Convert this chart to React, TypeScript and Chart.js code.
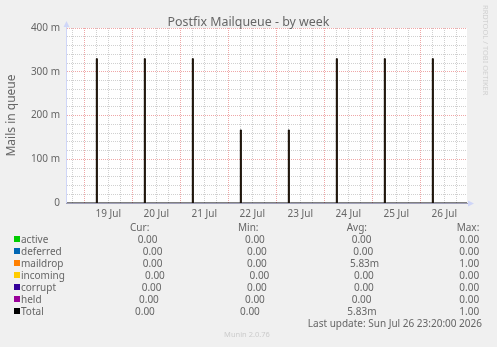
import React, { useEffect, useRef } from 'react';
import { Chart, registerables } from 'chart.js';

Chart.register(...registerables);

// ---------- data ----------
const dayLabels = ['19 Jul', '20 Jul', '21 Jul', '22 Jul', '23 Jul', '24 Jul', '25 Jul', '26 Jul'];
// hours since 18 Jul 00:00 (end of each 30-min sample that holds a mail)
const spikeHours = [30.5, 54.5, 78.5, 102.5, 126.5, 150.5, 174.5, 198.5];
const maildropValues = [0.33, 0.33, 0.33, 0.167, 0.167, 0.33, 0.33, 0.33];
const totalValues = [0.33, 0.33, 0.33, 0.167, 0.167, 0.33, 0.33, 0.33];
const yTickLabels = ['0', '100 m', '200 m', '300 m', '400 m'];

const seriesNames = ['active', 'deferred', 'maildrop', 'incoming', 'corrupt', 'held', 'Total'];
const seriesColors = ['#00CC00', '#0066B3', '#FF8000', '#FFCC00', '#330099', '#990099', '#000000'];
const curValues = ['0.00', '0.00', '0.00', '0.00', '0.00', '0.00', '0.00'];
const minValues = ['0.00', '0.00', '0.00', '0.00', '0.00', '0.00', '0.00'];
const avgValues = ['0.00', '0.00', '5.83m', '0.00', '0.00', '0.00', '5.83m'];
const maxValues = ['0.00', '0.00', '1.00', '0.00', '0.00', '0.00', '1.00'];

const TITLE = 'Postfix Mailqueue - by week';
const Y_TITLE = 'Mails in queue';
const LAST_UPDATE = 'Last update: Sun Jul 26 23:20:00 2026';
const WATERMARK = 'RRDTOOL / TOBI OETIKER';
const FOOTER = 'Munin 2.0.76';

// ---------- layout / style ----------
const W = 497;
const H = 347;
const FONT = '"Noto Sans", "Open Sans", sans-serif';
const TEXT = '#666666';
const MAJOR = 'rgba(224,80,80,0.5)';
const MINOR = 'rgba(150,150,150,0.45)';
const X_MIN = 15 + 20 / 60; // 18 Jul 15:20
const X_MAX = 8 * 24 + 23 + 20 / 60; // 26 Jul 23:20
const curX = [137.7, 142.7, 142.7, 145, 141.7, 139, 135];
const minX = [245, 247, 247, 249.5, 247, 245, 240];
const avgX = [351.7, 353.3, 350, 354, 354, 351.7, 347.3];
const maxX = [459.3, 459.3, 459.3, 459.3, 459.3, 459.3, 459.3];

function buildSeries(vals: number[]) {
  const pts: { x: number; y: number }[] = [{ x: X_MIN, y: 0 }];
  spikeHours.forEach((h, i) => {
    pts.push({ x: h - 0.5, y: 0 });
    pts.push({ x: h, y: vals[i] });
    pts.push({ x: h + 0.5, y: 0 });
  });
  pts.push({ x: X_MAX, y: 0 });
  return pts;
}

const axisPlugin = {
  id: 'rrdAxes',
  afterDatasetsDraw(chart: any) {
    const { ctx, chartArea } = chart;
    const { left, right, top, bottom } = chartArea;
    ctx.save();
    ctx.lineWidth = 1;
    ctx.strokeStyle = '#CFD6F8';
    ctx.beginPath();
    ctx.moveTo(left - 0.5, bottom + 0.5);
    ctx.lineTo(left - 0.5, top - 2);
    ctx.stroke();
    ctx.strokeStyle = '#A0A0B8';
    ctx.beginPath();
    ctx.moveTo(left - 1, bottom + 0.5);
    ctx.lineTo(right + 1, bottom + 0.5);
    ctx.stroke();
    ctx.fillStyle = '#CFD6F8';
    ctx.beginPath();
    ctx.moveTo(left - 0.5, top - 7);
    ctx.lineTo(left - 3.5, top - 1);
    ctx.lineTo(left + 2.5, top - 1);
    ctx.closePath();
    ctx.fill();
    ctx.beginPath();
    ctx.moveTo(right + 7, bottom + 0.5);
    ctx.lineTo(right + 1, bottom - 2.5);
    ctx.lineTo(right + 1, bottom + 3.5);
    ctx.closePath();
    ctx.fill();
    ctx.restore();
  },
};

const txt = (extra: React.CSSProperties): React.CSSProperties => ({
  position: 'absolute',
  whiteSpace: 'nowrap',
  fontFamily: FONT,
  fontSize: 10,
  lineHeight: '12px',
  color: TEXT,
  ...extra,
});

export default function App() {
  const ref = useRef<HTMLCanvasElement>(null);

  useEffect(() => {
    document.body.style.margin = '0';
    const canvas = ref.current!;
    const xTicks: number[] = [];
    for (let h = Math.ceil(X_MIN / 6) * 6; h <= X_MAX; h += 6) xTicks.push(h);
    const yTicks: number[] = [];
    for (let i = 0; i <= 20; i++) yTicks.push(i * 0.02);

    const chart = new Chart(canvas, {
      type: 'line',
      data: {
        datasets: [
          {
            label: 'Total',
            data: buildSeries(totalValues),
            borderColor: '#000000',
            borderWidth: 1,
            fill: false,
            stepped: 'after',
            pointRadius: 0,
            order: 0,
          },
          {
            label: 'maildrop',
            data: buildSeries(maildropValues),
            borderColor: seriesColors[2],
            backgroundColor: seriesColors[2],
            borderWidth: 0,
            fill: 'origin',
            stepped: 'after',
            pointRadius: 0,
            order: 1,
          },
        ],
      },
      options: {
        animation: false,
        responsive: false,
        maintainAspectRatio: false,
        parsing: false as any,
        normalized: true,
        layout: { padding: { top: 28, right: 30, left: 0, bottom: 0 } },
        plugins: {
          legend: { display: false },
          title: { display: false },
          tooltip: { enabled: false },
        },
        scales: {
          x: {
            type: 'linear',
            min: X_MIN,
            max: X_MAX,
            afterBuildTicks: (s: any) => {
              s.ticks = xTicks.map((v) => ({ value: v }));
            },
            afterFit: (s: any) => {
              s.height = H - 203;
            },
            grid: {
              drawTicks: false,
              lineWidth: 1,
              borderDash: [1, 1],
              color: (c: any) => (c.tick && c.tick.value % 24 === 0 ? MAJOR : MINOR),
            } as any,
            border: { display: false, dash: [1, 1] },
            ticks: {
              autoSkip: false,
              maxRotation: 0,
              padding: 5,
              color: TEXT,
              font: { family: FONT, size: 10 },
              callback: (v: any) => {
                const n = Number(v);
                if (n % 24 !== 12) return '';
                const idx = (n - 36) / 24;
                return dayLabels[idx] ?? '';
              },
            },
          },
          y: {
            type: 'linear',
            min: 0,
            max: 0.4,
            afterBuildTicks: (s: any) => {
              s.ticks = yTicks.map((v) => ({ value: v }));
            },
            afterFit: (s: any) => {
              s.width = 67;
            },
            grid: {
              drawTicks: false,
              lineWidth: 1,
              borderDash: [1, 1],
              color: (c: any) => (c.tick && Math.round(c.tick.value * 1000) % 100 === 0 ? MAJOR : MINOR),
            } as any,
            border: { display: false, dash: [1, 1] },
            title: {
              display: true,
              text: Y_TITLE,
              color: TEXT,
              font: { family: FONT, size: 12 },
              padding: { top: 4, bottom: 0 },
            },
            ticks: {
              autoSkip: false,
              padding: 7,
              color: TEXT,
              font: { family: FONT, size: 10 },
              callback: (v: any) => {
                const m = Math.round(Number(v) * 1000);
                if (m % 100 !== 0) return '';
                return yTickLabels[m / 100] ?? '';
              },
            },
          },
        },
      },
      plugins: [
        {
          id: 'plotBg',
          beforeDraw(chart: any) {
            const { ctx, chartArea } = chart;
            ctx.save();
            ctx.fillStyle = '#FFFFFF';
            ctx.fillRect(chartArea.left, chartArea.top, chartArea.right - chartArea.left, chartArea.bottom - chartArea.top);
            ctx.restore();
          },
        },
        axisPlugin,
      ],
    });
    return () => chart.destroy();
  }, []);

  const rowY = (i: number) => 239 + 12 * i;

  return (
    <div style={{ position: 'absolute', left: 0, top: 0, width: W, height: H, background: '#F0F0F0', overflow: 'hidden' }}>
      <canvas ref={ref} width={W} height={H} style={{ position: 'absolute', left: 0, top: 0, width: W, height: H }} />
      <div style={txt({ left: 0, width: W, top: 14.5, textAlign: 'center', fontSize: 12.4, lineHeight: '14px' })}>{TITLE}</div>
      <div
        style={txt({
          left: 481,
          top: 5,
          fontSize: 7.5,
          lineHeight: '10px',
          color: '#D0D0D0',
          transformOrigin: '0 0',
          transform: 'translate(10px, 0) rotate(90deg)',
        })}
      >
        {WATERMARK}
      </div>
      <div style={txt({ left: 130, top: 221 })}>Cur:</div>
      <div style={txt({ left: 238, top: 221 })}>Min:</div>
      <div style={txt({ left: 346.7, top: 221 })}>Avg:</div>
      <div style={txt({ left: 456.7, top: 221 })}>Max:</div>
      {seriesNames.map((name, i) => (
        <React.Fragment key={name}>
          <div style={{ position: 'absolute', left: 14, top: rowY(i) - 3, width: 6, height: 6, background: seriesColors[i] }} />
          <div style={txt({ left: 21, top: rowY(i) - 6 })}>{name}</div>
          <div style={txt({ left: curX[i], top: rowY(i) - 6 })}>{curValues[i]}</div>
          <div style={txt({ left: minX[i], top: rowY(i) - 6 })}>{minValues[i]}</div>
          <div style={txt({ left: avgX[i], top: rowY(i) - 6 })}>{avgValues[i]}</div>
          <div style={txt({ left: maxX[i], top: rowY(i) - 6 })}>{maxValues[i]}</div>
        </React.Fragment>
      ))}
      <div style={txt({ right: W - 482, top: 317 })}>{LAST_UPDATE}</div>
      <div style={txt({ left: 0, width: 494, top: 328, textAlign: 'center', fontSize: 7.5, color: '#CCCCCC' })}>{FOOTER}</div>
    </div>
  );
}
